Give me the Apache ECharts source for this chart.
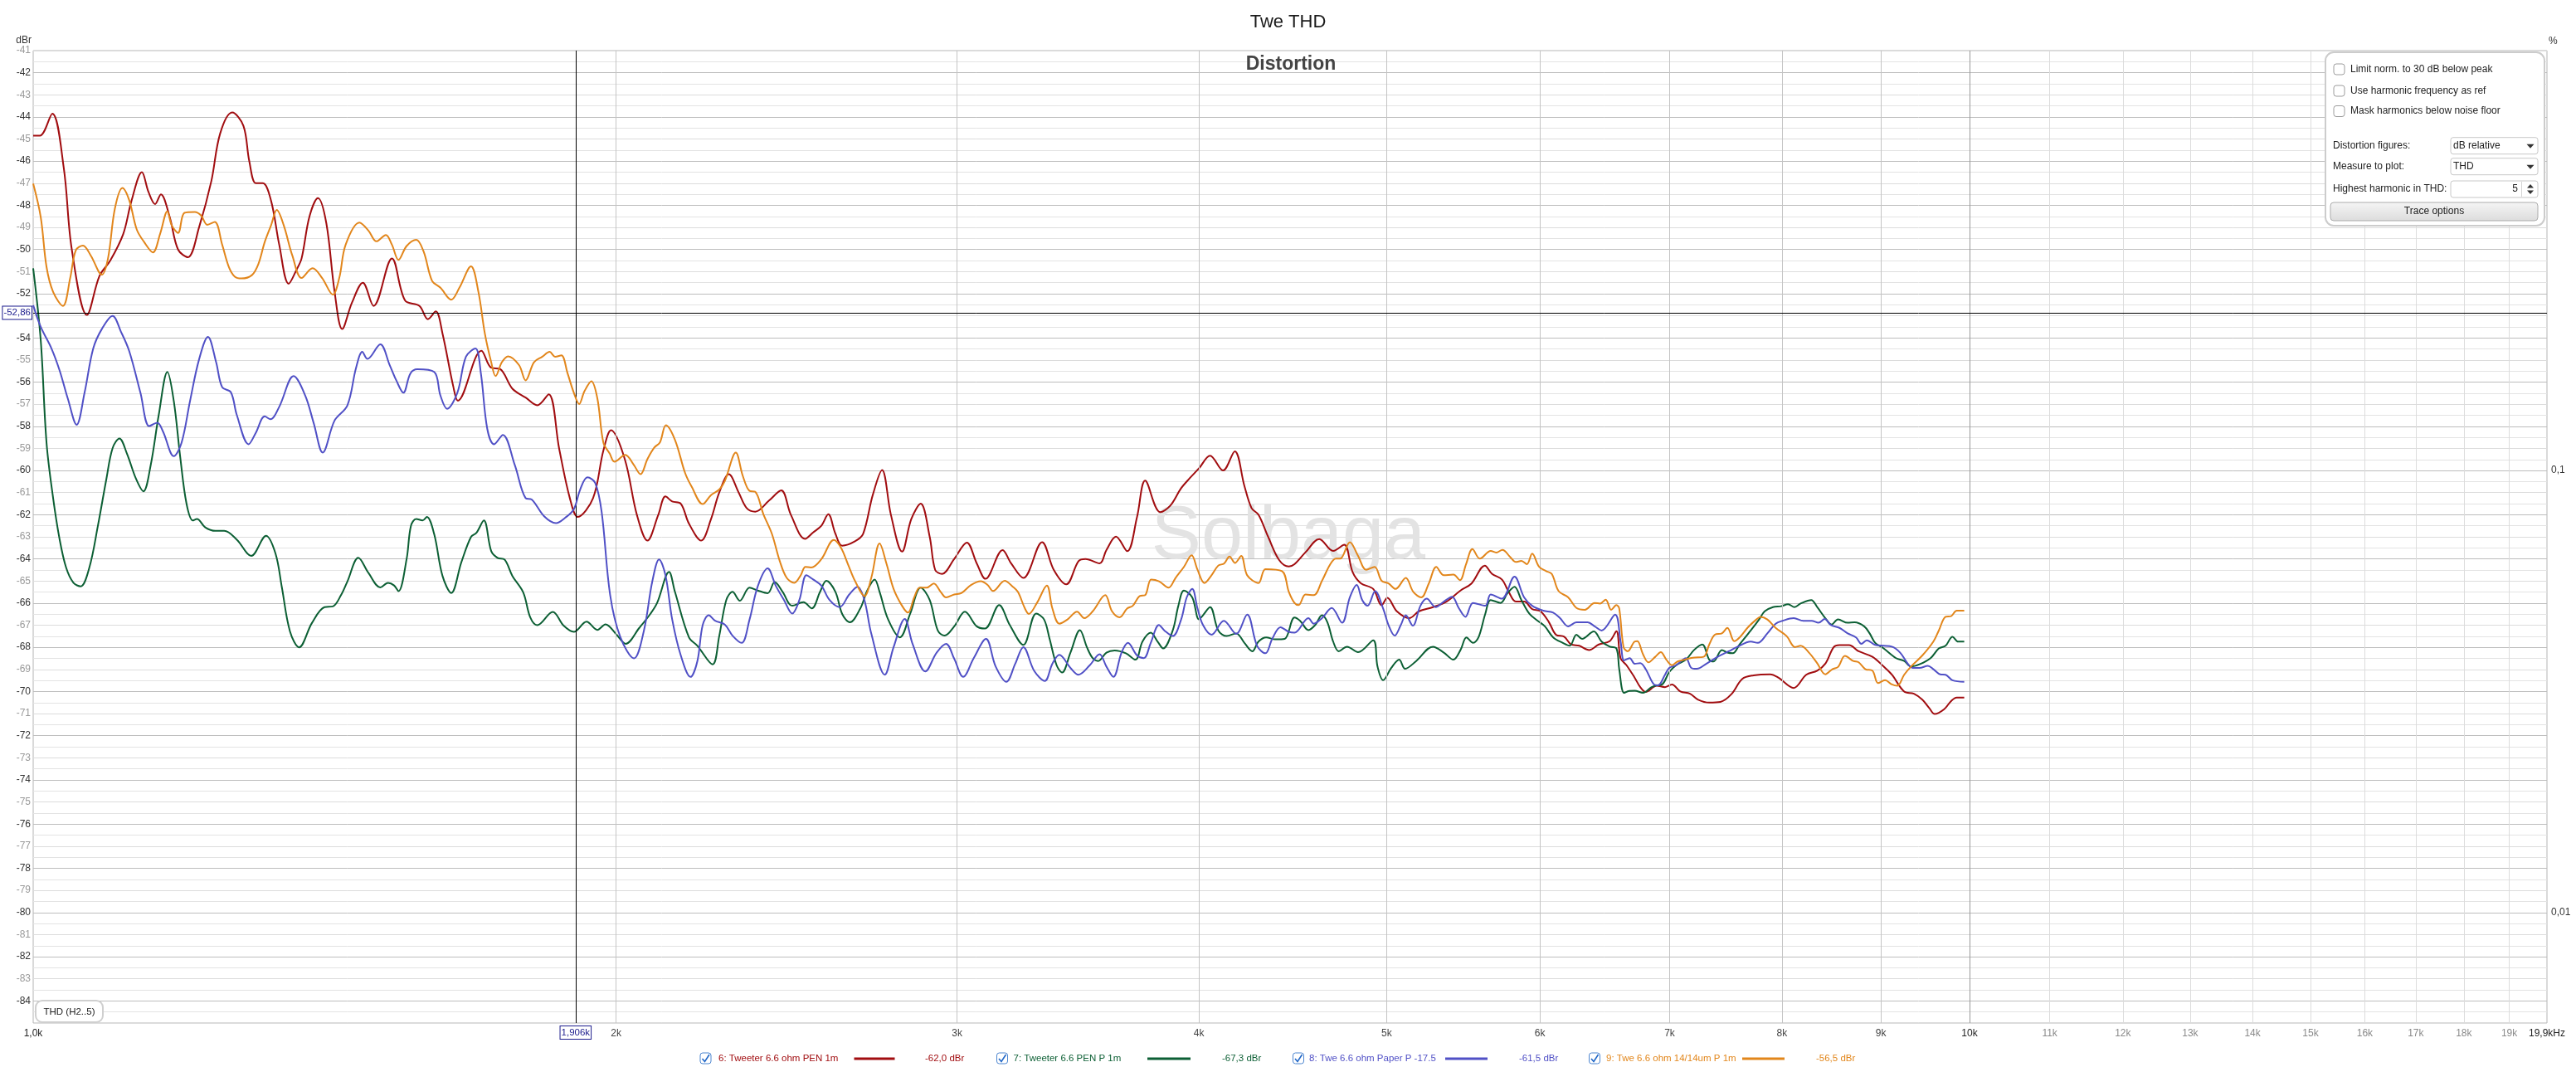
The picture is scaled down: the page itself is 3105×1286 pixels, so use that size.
<!DOCTYPE html>
<html><head><meta charset="utf-8">
<script src="https://cdn.jsdelivr.net/npm/echarts@6/dist/echarts.min.js"></script>
<style>html,body{margin:0;padding:0;background:#fff}#c{width:3105px;height:1286px}</style>
</head><body><div id="c"></div>
<script>
// ---------- DATA ----------
const seriesNames = ['6: Tweeter 6.6 ohm PEN 1m', '7: Tweeter 6.6 PEN P 1m', '8: Twe 6.6 ohm Paper P -17.5', '9: Twe 6.6 ohm 14/14um P 1m'];
const legendValues = ['-62,0 dBr', '-67,3 dBr', '-61,5 dBr', '-56,5 dBr'];

// x tick labels [Hz, label]
const xTickLabels = [[1000,'1,0k'],[2000,'2k'],[3000,'3k'],[4000,'4k'],[5000,'5k'],[6000,'6k'],[7000,'7k'],[8000,'8k'],[9000,'9k'],[10000,'10k'],[11000,'11k'],[12000,'12k'],[13000,'13k'],[14000,'14k'],[15000,'15k'],[16000,'16k'],[17000,'17k'],[18000,'18k'],[19000,'19k'],[19870,'19,9kHz']];
const xMin = 1000, xMax = 19870;
const yMin = -85, yMax = -41;
const pctLabels = [[-60,'0,1'],[-80,'0,01']];
const cursor = { freq: 1906, freqLabel: '1,906k', db: -52.86, dbLabel: '-52,86' };

const tweeterPEN1m = [[1000,-44.85],[1008,-44.85],[1023,-43.85],[1037,-46.3],[1047,-50.0],[1066,-52.96],[1082,-51.2],[1096,-50.5],[1113,-49.3],[1124,-47.8],[1138,-46.5],[1147,-47.4],[1156,-47.95],[1164,-47.5],[1176,-48.5],[1188,-50.0],[1202,-50.35],[1218,-49.0],[1236,-46.9],[1249,-44.75],[1267,-43.8],[1284,-44.4],[1293,-46.0],[1303,-47.0],[1314,-47.0],[1327,-47.8],[1340,-49.8],[1355,-51.55],[1368,-50.9],[1376,-50.4],[1389,-48.5],[1403,-47.67],[1417,-48.8],[1431,-51.9],[1444,-53.6],[1461,-52.4],[1480,-51.5],[1499,-52.55],[1532,-50.4],[1556,-52.3],[1583,-52.55],[1599,-53.15],[1614,-52.8],[1627,-53.8],[1648,-56.2],[1657,-56.84],[1704,-54.58],[1724,-55.35],[1742,-55.4],[1768,-56.3],[1796,-56.7],[1821,-57.05],[1846,-56.55],[1869,-59.0],[1893,-61.25],[1911,-62.1],[1946,-61.25],[1970,-59.1],[1988,-58.18],[2021,-59.5],[2050,-62.0],[2076,-63.17],[2103,-62.0],[2121,-61.17],[2138,-61.4],[2160,-61.5],[2181,-62.4],[2213,-63.17],[2239,-62.2],[2261,-61.0],[2287,-60.17],[2314,-61.0],[2336,-61.7],[2360,-61.86],[2399,-61.36],[2434,-60.9],[2462,-62.0],[2504,-63.09],[2528,-62.8],[2553,-62.5],[2574,-61.98],[2596,-62.86],[2617,-63.4],[2657,-63.2],[2683,-62.86],[2714,-61.1],[2744,-59.98],[2773,-62.0],[2810,-63.67],[2841,-62.2],[2873,-61.5],[2904,-63.0],[2923,-64.5],[2947,-64.68],[2990,-64.0],[3035,-63.26],[3071,-64.2],[3103,-64.9],[3167,-63.6],[3199,-64.2],[3246,-64.86],[3319,-63.24],[3366,-64.5],[3416,-65.15],[3466,-64.1],[3495,-64.0],[3554,-64.2],[3583,-63.6],[3624,-62.99],[3673,-63.65],[3716,-62.1],[3752,-60.46],[3820,-61.88],[3865,-61.6],[3916,-60.8],[3955,-60.36],[4000,-59.9],[4053,-59.33],[4116,-60.0],[4174,-59.13],[4222,-60.7],[4258,-61.7],[4293,-62.0],[4343,-63.0],[4400,-64.05],[4451,-64.34],[4481,-64.24],[4540,-63.7],[4615,-63.1],[4692,-63.64],[4754,-63.36],[4802,-64.6],[4849,-65.1],[4921,-65.36],[4970,-66.1],[5004,-65.76],[5061,-66.37],[5136,-66.68],[5196,-66.37],[5283,-66.18],[5369,-65.93],[5459,-65.43],[5531,-65.11],[5619,-64.3],[5668,-64.68],[5734,-64.93],[5782,-65.5],[5830,-65.93],[5888,-65.93],[5945,-66.27],[6004,-66.37],[6065,-66.87],[6115,-67.43],[6175,-67.52],[6226,-67.87],[6287,-67.93],[6361,-68.12],[6435,-67.87],[6519,-67.72],[6571,-67.27],[6604,-68.5],[6649,-68.8],[6715,-69.37],[6760,-69.8],[6804,-70.02],[6893,-69.74],[6962,-69.8],[7020,-69.68],[7090,-70.0],[7172,-70.1],[7242,-70.37],[7338,-70.5],[7436,-70.47],[7534,-70.12],[7632,-69.43],[7735,-69.27],[7889,-69.22],[7966,-69.37],[8113,-69.84],[8235,-69.24],[8343,-69.06],[8424,-68.74],[8509,-67.99],[8567,-67.9],[8665,-67.9],[8765,-68.18],[8910,-68.43],[9029,-68.87],[9118,-69.24],[9252,-70.0],[9360,-70.1],[9454,-70.37],[9532,-70.75],[9594,-71.02],[9703,-70.8],[9783,-70.43],[9848,-70.27],[9937,-70.27]];

const tweeterPENP1m = [[1000,-50.85],[1009,-54.1],[1016,-58.75],[1024,-61.25],[1032,-63.13],[1040,-64.4],[1049,-65.08],[1058,-65.24],[1069,-64.4],[1080,-62.5],[1091,-60.37],[1099,-58.99],[1108,-58.55],[1118,-59.24],[1130,-60.37],[1140,-60.94],[1150,-59.75],[1161,-57.49],[1173,-55.54],[1182,-56.86],[1191,-59.37],[1200,-61.5],[1209,-62.26],[1215,-62.19],[1227,-62.57],[1242,-62.73],[1255,-62.73],[1274,-63.13],[1296,-63.86],[1319,-62.95],[1334,-63.76],[1344,-65.27],[1357,-67.27],[1372,-68.0],[1393,-66.9],[1414,-66.18],[1428,-66.15],[1442,-65.64],[1453,-65.02],[1472,-63.95],[1490,-64.64],[1511,-65.29],[1525,-65.08],[1536,-65.2],[1544,-65.46],[1559,-64.01],[1567,-62.51],[1577,-62.19],[1589,-62.26],[1597,-62.1],[1611,-62.88],[1627,-64.77],[1644,-65.54],[1664,-64.14],[1683,-63.01],[1694,-62.82],[1709,-62.26],[1724,-63.64],[1737,-63.95],[1752,-64.04],[1768,-64.77],[1791,-65.52],[1806,-66.65],[1821,-67.0],[1855,-66.4],[1879,-67.02],[1902,-67.3],[1931,-66.84],[1956,-67.21],[1975,-66.96],[2000,-67.4],[2023,-67.84],[2056,-67.12],[2083,-66.49],[2100,-65.99],[2130,-64.59],[2145,-65.49],[2181,-67.55],[2203,-67.93],[2243,-68.77],[2261,-67.49],[2280,-65.86],[2297,-65.49],[2317,-65.89],[2344,-65.3],[2367,-65.43],[2395,-65.55],[2415,-65.05],[2438,-65.49],[2466,-66.12],[2499,-65.96],[2524,-66.24],[2549,-65.49],[2568,-64.99],[2596,-65.49],[2617,-66.49],[2641,-66.87],[2674,-66.24],[2696,-65.43],[2720,-64.93],[2736,-65.49],[2764,-66.74],[2803,-67.55],[2837,-66.49],[2873,-65.3],[2904,-65.86],[2932,-67.24],[2956,-67.47],[2990,-67.05],[3028,-66.39],[3071,-67.05],[3101,-67.15],[3154,-66.09],[3194,-66.99],[3246,-67.89],[3296,-66.47],[3327,-66.74],[3349,-67.62],[3377,-68.81],[3399,-69.14],[3433,-68.24],[3472,-67.22],[3501,-68.0],[3525,-68.49],[3548,-68.62],[3583,-68.24],[3618,-68.14],[3667,-68.27],[3709,-68.56],[3740,-67.74],[3777,-67.34],[3808,-67.74],[3833,-68.05],[3877,-67.24],[3903,-66.12],[3929,-65.43],[3968,-65.74],[4000,-66.74],[4019,-66.55],[4053,-66.18],[4093,-67.24],[4134,-67.49],[4181,-67.37],[4222,-67.8],[4262,-68.18],[4293,-67.74],[4333,-67.55],[4379,-67.64],[4429,-67.62],[4481,-66.65],[4511,-66.8],[4556,-67.22],[4593,-66.99],[4630,-66.55],[4660,-66.87],[4692,-67.74],[4723,-68.18],[4770,-67.97],[4833,-68.22],[4921,-67.68],[4946,-68.87],[4979,-69.49],[5028,-68.93],[5075,-68.56],[5111,-68.97],[5179,-68.62],[5283,-67.97],[5352,-68.24],[5413,-68.56],[5459,-68.12],[5498,-67.55],[5541,-67.8],[5577,-67.55],[5622,-66.49],[5659,-65.86],[5725,-65.99],[5773,-65.55],[5821,-65.26],[5869,-65.86],[5926,-66.49],[5984,-66.8],[6035,-67.05],[6095,-67.55],[6165,-67.8],[6216,-67.93],[6266,-67.43],[6308,-67.62],[6397,-67.28],[6456,-67.74],[6519,-67.97],[6571,-68.05],[6593,-68.99],[6631,-70.06],[6671,-69.97],[6715,-69.96],[6782,-70.06],[6849,-69.81],[6893,-69.72],[6938,-69.68],[6997,-69.12],[7055,-68.81],[7137,-68.56],[7207,-68.12],[7277,-67.87],[7338,-68.56],[7375,-68.64],[7449,-68.12],[7498,-68.24],[7546,-68.27],[7608,-67.87],[7709,-67.24],[7786,-66.74],[7838,-66.37],[7915,-66.18],[7993,-66.14],[8059,-66.05],[8121,-66.18],[8180,-66.02],[8284,-65.86],[8343,-66.18],[8424,-66.68],[8486,-66.97],[8552,-66.74],[8651,-66.89],[8722,-66.87],[8822,-67.05],[8880,-67.37],[8939,-67.8],[9029,-68.05],[9163,-68.49],[9252,-68.62],[9328,-68.87],[9422,-68.77],[9547,-68.49],[9641,-68.05],[9719,-67.93],[9799,-67.52],[9865,-67.74],[9937,-67.74]];

const twePaperP = [[1000,-52.52],[1009,-53.5],[1022,-54.48],[1032,-55.48],[1042,-56.74],[1053,-57.93],[1063,-56.48],[1074,-54.48],[1085,-53.6],[1099,-53.0],[1110,-53.72],[1121,-54.6],[1136,-56.48],[1148,-57.99],[1159,-57.84],[1167,-58.24],[1182,-59.35],[1193,-58.74],[1205,-56.86],[1218,-54.98],[1231,-53.95],[1243,-55.1],[1252,-56.23],[1265,-56.46],[1274,-57.49],[1292,-58.81],[1303,-58.3],[1317,-57.55],[1326,-57.68],[1340,-57.11],[1363,-55.73],[1382,-56.61],[1396,-57.86],[1411,-59.19],[1431,-57.74],[1453,-57.05],[1468,-55.36],[1479,-54.63],[1488,-54.95],[1511,-54.29],[1528,-55.23],[1540,-55.92],[1553,-56.48],[1566,-55.61],[1579,-55.42],[1611,-55.54],[1623,-56.61],[1636,-57.21],[1656,-56.48],[1673,-54.85],[1692,-54.48],[1703,-55.61],[1716,-58.12],[1730,-58.81],[1748,-58.39],[1773,-59.75],[1796,-61.25],[1809,-61.31],[1836,-62.07],[1862,-62.38],[1883,-62.13],[1902,-61.75],[1916,-60.88],[1933,-60.31],[1951,-60.56],[1966,-61.88],[1986,-65.64],[2010,-67.53],[2043,-68.5],[2067,-67.27],[2088,-65.02],[2105,-64.02],[2121,-64.74],[2138,-66.74],[2160,-68.37],[2185,-69.34],[2203,-68.62],[2217,-66.99],[2233,-66.55],[2250,-66.8],[2276,-66.97],[2298,-67.49],[2322,-67.8],[2344,-66.74],[2367,-65.24],[2395,-64.43],[2419,-65.24],[2442,-65.86],[2466,-66.47],[2487,-65.86],[2508,-64.74],[2528,-64.93],[2553,-65.21],[2578,-65.86],[2609,-66.18],[2639,-65.61],[2665,-65.26],[2687,-65.86],[2709,-67.37],[2753,-69.24],[2782,-67.99],[2819,-66.72],[2846,-67.87],[2889,-69.09],[2928,-68.24],[2961,-67.84],[2990,-68.52],[3022,-69.34],[3060,-68.49],[3105,-67.62],[3141,-68.87],[3181,-69.56],[3215,-68.74],[3246,-67.99],[3288,-69.06],[3330,-69.52],[3360,-68.74],[3388,-68.34],[3433,-68.93],[3466,-69.24],[3513,-68.81],[3554,-68.31],[3583,-68.87],[3613,-69.34],[3648,-68.24],[3676,-67.8],[3716,-68.37],[3746,-68.49],[3777,-67.8],[3814,-66.99],[3839,-67.24],[3877,-67.49],[3916,-66.74],[3942,-65.74],[3968,-65.36],[3993,-66.24],[4019,-66.99],[4060,-67.43],[4120,-66.8],[4181,-67.39],[4236,-66.52],[4286,-67.93],[4329,-68.27],[4364,-67.62],[4407,-67.09],[4451,-67.3],[4481,-67.34],[4556,-66.68],[4585,-66.93],[4630,-66.68],[4684,-66.22],[4742,-66.89],[4786,-65.74],[4825,-65.18],[4857,-65.86],[4888,-66.12],[4932,-65.46],[4979,-66.24],[5011,-66.99],[5048,-67.47],[5085,-66.99],[5115,-66.55],[5158,-67.02],[5205,-66.12],[5244,-65.8],[5300,-66.18],[5352,-65.93],[5404,-65.71],[5449,-66.24],[5491,-66.62],[5541,-65.99],[5622,-66.12],[5659,-65.61],[5734,-65.8],[5821,-64.8],[5888,-65.74],[5945,-66.12],[6024,-66.34],[6095,-66.43],[6145,-66.68],[6205,-67.05],[6266,-66.87],[6350,-66.87],[6403,-67.05],[6456,-67.24],[6561,-66.52],[6604,-67.74],[6631,-68.59],[6676,-68.49],[6715,-68.74],[6760,-68.72],[6804,-68.99],[6871,-69.68],[6904,-69.72],[6962,-69.24],[6997,-68.93],[7055,-68.81],[7137,-68.49],[7183,-68.93],[7230,-68.97],[7314,-68.74],[7412,-68.43],[7510,-68.18],[7583,-67.99],[7709,-67.74],[7773,-67.8],[7863,-67.37],[7941,-66.93],[8005,-66.8],[8113,-66.68],[8207,-66.8],[8288,-66.8],[8356,-66.89],[8418,-66.72],[8481,-66.99],[8567,-67.12],[8651,-67.37],[8737,-67.55],[8793,-67.84],[8850,-67.68],[8939,-67.89],[9029,-67.93],[9118,-67.97],[9208,-68.24],[9297,-68.77],[9344,-68.93],[9422,-68.93],[9516,-68.84],[9579,-68.99],[9657,-69.22],[9719,-69.24],[9799,-69.49],[9937,-69.56]];

const twe1414umP1m = [[1000,-47.02],[1009,-48.53],[1016,-50.79],[1024,-51.92],[1036,-52.55],[1045,-51.29],[1052,-50.03],[1061,-49.82],[1071,-50.28],[1085,-51.14],[1093,-50.41],[1102,-48.15],[1112,-47.21],[1121,-47.77],[1131,-49.09],[1141,-49.66],[1153,-50.13],[1163,-49.28],[1173,-48.27],[1179,-48.9],[1188,-49.25],[1197,-48.34],[1212,-48.3],[1221,-48.46],[1230,-48.88],[1241,-48.75],[1252,-49.78],[1262,-50.79],[1271,-51.23],[1281,-51.31],[1297,-51.16],[1307,-50.66],[1317,-49.66],[1327,-48.9],[1336,-48.21],[1347,-48.9],[1361,-50.28],[1376,-51.29],[1394,-50.85],[1410,-51.29],[1428,-52.04],[1439,-51.29],[1450,-49.78],[1474,-48.78],[1490,-49.15],[1504,-49.63],[1521,-49.34],[1532,-49.78],[1544,-50.47],[1559,-49.84],[1577,-49.56],[1591,-50.1],[1607,-51.42],[1623,-51.73],[1644,-52.27],[1660,-51.73],[1683,-50.76],[1698,-51.92],[1711,-53.8],[1724,-55.1],[1733,-55.73],[1746,-55.1],[1759,-54.83],[1782,-55.23],[1796,-55.92],[1814,-55.1],[1832,-54.85],[1848,-54.63],[1860,-54.85],[1874,-54.79],[1888,-55.61],[1902,-56.48],[1914,-56.99],[1926,-56.42],[1942,-55.96],[1956,-56.74],[1970,-58.74],[1985,-59.24],[1996,-59.6],[2022,-59.29],[2042,-59.73],[2059,-60.17],[2076,-59.48],[2093,-58.96],[2107,-58.73],[2122,-57.95],[2145,-58.61],[2171,-60.11],[2188,-60.73],[2217,-61.52],[2239,-61.11],[2261,-60.86],[2276,-60.48],[2306,-59.19],[2325,-60.23],[2344,-60.92],[2360,-60.96],[2383,-61.98],[2407,-62.86],[2430,-64.11],[2450,-64.86],[2472,-65.08],[2491,-64.74],[2505,-64.36],[2522,-64.39],[2553,-64.01],[2591,-63.14],[2613,-63.49],[2635,-64.24],[2657,-64.99],[2687,-65.68],[2709,-64.86],[2736,-63.3],[2759,-64.24],[2782,-65.36],[2810,-66.12],[2830,-66.43],[2851,-65.74],[2870,-65.3],[2894,-65.3],[2918,-65.11],[2942,-65.49],[2961,-65.74],[2990,-65.61],[3015,-65.55],[3050,-65.18],[3086,-65.01],[3111,-65.18],[3131,-65.45],[3175,-64.99],[3204,-65.24],[3225,-65.49],[3252,-66.24],[3267,-66.49],[3299,-65.99],[3338,-65.21],[3360,-66.24],[3388,-66.93],[3421,-66.74],[3460,-66.39],[3490,-66.68],[3525,-66.37],[3578,-65.64],[3607,-66.37],[3640,-66.64],[3673,-66.24],[3697,-66.12],[3728,-65.68],[3752,-65.64],[3779,-64.93],[3814,-65.01],[3858,-65.3],[3890,-64.86],[3929,-64.36],[3965,-63.84],[3993,-64.49],[4026,-65.09],[4060,-64.74],[4093,-64.3],[4121,-64.21],[4148,-63.89],[4175,-64.18],[4206,-63.86],[4236,-64.74],[4293,-65.09],[4329,-64.46],[4415,-64.55],[4451,-65.49],[4481,-65.99],[4503,-66.09],[4540,-65.61],[4585,-65.64],[4630,-64.99],[4676,-64.24],[4707,-63.99],[4731,-63.99],[4786,-63.24],[4833,-63.86],[4880,-64.49],[4929,-64.36],[4970,-64.99],[5011,-65.11],[5053,-65.36],[5115,-64.86],[5161,-65.49],[5210,-65.74],[5257,-65.11],[5304,-64.36],[5352,-64.74],[5413,-64.71],[5455,-64.96],[5495,-64.24],[5537,-63.55],[5586,-63.99],[5659,-63.64],[5696,-63.71],[5738,-63.59],[5792,-63.92],[5830,-64.14],[5869,-64.09],[5907,-64.24],[5945,-63.76],[5994,-64.36],[6044,-64.55],[6085,-64.68],[6135,-65.46],[6205,-65.74],[6266,-66.22],[6329,-66.3],[6403,-65.99],[6445,-66.02],[6488,-65.84],[6530,-66.3],[6571,-66.09],[6593,-66.24],[6627,-67.99],[6660,-68.18],[6715,-67.74],[6737,-67.72],[6782,-68.31],[6826,-68.68],[6882,-68.43],[6927,-68.22],[6973,-68.56],[7020,-68.81],[7067,-68.64],[7125,-68.56],[7195,-68.47],[7289,-68.43],[7338,-67.87],[7387,-67.43],[7449,-67.37],[7498,-67.12],[7560,-67.72],[7608,-67.55],[7684,-67.09],[7761,-66.74],[7799,-66.62],[7863,-66.74],[7941,-67.12],[8045,-67.49],[8126,-67.99],[8180,-67.93],[8262,-68.24],[8343,-68.72],[8424,-69.22],[8495,-68.99],[8552,-68.89],[8623,-68.39],[8709,-68.62],[8765,-68.68],[8836,-68.99],[8910,-69.06],[8969,-69.62],[9044,-69.49],[9118,-69.68],[9178,-69.74],[9252,-69.24],[9328,-68.87],[9454,-68.37],[9579,-67.74],[9641,-67.24],[9719,-66.62],[9783,-66.59],[9848,-66.34],[9937,-66.34]];

const seriesData = [tweeterPEN1m, tweeterPENP1m, twePaperP, twe1414umP1m];

// ---------- STYLE ----------
const colors = ['#a10d10', '#0c5f34', '#5050c6', '#e2861b'];
const FONT = '"Liberation Sans", Arial, sans-serif';

const chart = echarts.init(document.getElementById('c'), null, { renderer: 'canvas' });

function xLabelColor(f) {
  if (f === 1000 || f === 10000 || f === 19870) return '#222';
  if (f < 10000) return '#444';
  return '#8a8a8a';
}
function xLineColor(f) {
  if (f === 1000 || f === 19870) return 'rgba(0,0,0,0)';
  if (f === 10000) return '#9a9a9a';
  if (f < 10000) return '#c4c4c4';
  return '#dcdcdc';
}

const gridMarks = xTickLabels.map(([f, lab]) => ({
  xAxis: f,
  lineStyle: { color: xLineColor(f), width: 1, type: 'solid' },
  label: { show: true, position: 'start', distance: 7, formatter: lab, color: xLabelColor(f), fontSize: 12, fontFamily: FONT }
}));

const cursorMarks = [
  { xAxis: cursor.freq, lineStyle: { color: '#000', width: 1, type: 'solid' },
    label: { show: true, position: 'start', distance: 4, formatter: cursor.freqLabel, color: '#1b1b8c', fontSize: 11.5, fontFamily: FONT,
      backgroundColor: '#fff', borderColor: '#1b1b8c', borderWidth: 1, padding: [2, 1, 1, 1] } },
  { yAxis: cursor.db, lineStyle: { color: '#000', width: 1, type: 'solid' },
    label: { show: true, position: 'start', distance: 2, formatter: cursor.dbLabel, color: '#1b1b8c', fontSize: 11.5, fontFamily: FONT,
      backgroundColor: '#fff', borderColor: '#1b1b8c', borderWidth: 1, padding: [2, 1, 1, 1] } }
];

const lineSeries = seriesData.map((d, i) => ({
  type: 'line', name: seriesNames[i], data: d, showSymbol: false, symbol: 'none',
  smooth: 0.35, clip: true, z: 3 + i,
  lineStyle: { width: 2, color: colors[i] }, itemStyle: { color: colors[i] }
}));

// ---------- GRAPHIC ----------
const g = [];
g.push({ type: 'text', x: 1556, y: 78, z: 5, style: { text: 'Distortion', fill: '#444', fontSize: 23, fontWeight: 'bold', fontFamily: FONT, align: 'center', verticalAlign: 'middle' } });
g.push({ type: 'text', x: 1553, y: 648, z: 1, style: { text: 'Solbaga', fill: '#e3e3e3', fontSize: 90, fontFamily: FONT, align: 'center', verticalAlign: 'middle' } });
// THD box
g.push({ type: 'rect', z: 10, shape: { x: 43, y: 1206, width: 81, height: 26, r: 8 }, style: { fill: '#fff', stroke: '#cfcfcf', lineWidth: 2 } });
g.push({ type: 'text', z: 11, x: 83.5, y: 1219.5, style: { text: 'THD (H2..5)', fill: '#222', fontSize: 11.5, fontFamily: FONT, align: 'center', verticalAlign: 'middle' } });
// options panel
const PX = 2803, PY = 63;
g.push({ type: 'rect', z: 20, shape: { x: PX, y: PY, width: 264, height: 209, r: 10 }, style: { fill: '#fff', stroke: '#cccccc', lineWidth: 2 } });
const checks = [['Limit norm. to 30 dB below peak', 83.5], ['Use harmonic frequency as ref', 109.5], ['Mask harmonics below noise floor', 134]];
checks.forEach(([t, cy]) => {
  g.push({ type: 'rect', z: 21, shape: { x: 2813, y: cy - 6.5, width: 13, height: 13, r: 3 }, style: { fill: '#fff', stroke: '#9c9c9c', lineWidth: 1 } });
  g.push({ type: 'text', z: 21, x: 2833, y: cy, style: { text: t, fill: '#222', fontSize: 12, fontFamily: FONT, align: 'left', verticalAlign: 'middle' } });
});
const rows = [['Distortion figures:', 175.7, 'dB relative', 'drop'], ['Measure to plot:', 200.7, 'THD', 'drop'], ['Highest harmonic in THD:', 228, '5', 'spin']];
rows.forEach(([t, cy, v, kind]) => {
  g.push({ type: 'text', z: 21, x: 2812, y: cy, style: { text: t, fill: '#222', fontSize: 12, fontFamily: FONT, align: 'left', verticalAlign: 'middle' } });
  g.push({ type: 'rect', z: 21, shape: { x: 2954, y: cy - 10, width: 105, height: 20, r: 3 }, style: { fill: '#fff', stroke: '#c8c8c8', lineWidth: 1 } });
  if (kind === 'drop') {
    g.push({ type: 'text', z: 22, x: 2957, y: cy, style: { text: v, fill: '#222', fontSize: 12, fontFamily: FONT, align: 'left', verticalAlign: 'middle' } });
    g.push({ type: 'polygon', z: 22, shape: { points: [[3045.5, cy - 2], [3054.5, cy - 2], [3050, cy + 3]] }, style: { fill: '#333' } });
  } else {
    g.push({ type: 'text', z: 22, x: 3035, y: cy, style: { text: v, fill: '#222', fontSize: 12, fontFamily: FONT, align: 'right', verticalAlign: 'middle' } });
    g.push({ type: 'line', z: 22, shape: { x1: 3039.5, y1: cy - 9, x2: 3039.5, y2: cy + 9 }, style: { stroke: '#d4d4d4', lineWidth: 1 } });
    g.push({ type: 'polygon', z: 22, shape: { points: [[3046, cy - 1.5], [3054, cy - 1.5], [3050, cy - 6]] }, style: { fill: '#333' } });
    g.push({ type: 'polygon', z: 22, shape: { points: [[3046, cy + 1.5], [3054, cy + 1.5], [3050, cy + 6]] }, style: { fill: '#333' } });
  }
});
g.push({ type: 'rect', z: 21, shape: { x: 2809, y: 244, width: 250, height: 22, r: 4 },
  style: { fill: new echarts.graphic.LinearGradient(0, 0, 0, 1, [{ offset: 0, color: '#f5f5f5' }, { offset: 1, color: '#dcdcdc' }]), stroke: '#ababab', lineWidth: 1 } });
g.push({ type: 'text', z: 22, x: 2934, y: 255, style: { text: 'Trace options', fill: '#222', fontSize: 12, fontFamily: FONT, align: 'center', verticalAlign: 'middle' } });

// legend
const LY = 1276;
const legCheckX = [850.5, 1208, 1565, 1922];
const legTextX = [866, 1221.5, 1578, 1936];
const legLineX = [[1029.5, 1078.5], [1383, 1435], [1742, 1793], [2100, 2151]];
const legValX = [1115, 1473, 1831, 2189];
seriesNames.forEach((n, i) => {
  const cx = legCheckX[i];
  g.push({ type: 'rect', z: 10, shape: { x: cx - 6.5, y: LY - 7, width: 13, height: 13, r: 3 }, style: { fill: '#fff', stroke: '#4d86d0', lineWidth: 1 } });
  g.push({ type: 'polyline', z: 11, shape: { points: [[cx - 4, LY], [cx - 1, LY + 3.5], [cx + 4.5, LY - 5]] }, style: { stroke: '#1f66c7', lineWidth: 1.6, fill: null } });
  g.push({ type: 'text', z: 10, x: legTextX[i], y: LY, style: { text: n, fill: colors[i], fontSize: 11.5, fontFamily: FONT, align: 'left', verticalAlign: 'middle' } });
  g.push({ type: 'line', z: 10, shape: { x1: legLineX[i][0], y1: LY, x2: legLineX[i][1], y2: LY }, style: { stroke: colors[i], lineWidth: 3 } });
  g.push({ type: 'text', z: 10, x: legValX[i], y: LY, style: { text: legendValues[i], fill: colors[i], fontSize: 11.5, fontFamily: FONT, align: 'left', verticalAlign: 'middle' } });
});

const option = {
  animation: false,
  backgroundColor: '#ffffff',
  title: { text: 'Twe THD', left: 'center', top: 11, textStyle: { fontFamily: FONT, fontSize: 22, fontWeight: 'normal', color: '#1a1a1a' } },
  grid: { left: 40, right: 35, top: 61, bottom: 53, show: true, borderColor: '#b4b4b4', borderWidth: 1, backgroundColor: 'transparent' },
  xAxis: { type: 'log', logBase: 10, min: xMin, max: xMax, axisLine: { show: false }, axisTick: { show: false }, axisLabel: { show: false }, splitLine: { show: false } },
  yAxis: [
    { type: 'value', min: yMin, max: yMax, interval: 1, position: 'left',
      name: 'dBr', nameLocation: 'end', nameGap: 5, nameTextStyle: { fontFamily: FONT, fontSize: 12, color: '#333', align: 'right', padding: [0, 2, 0, 0] },
      axisLine: { show: false }, axisTick: { show: false },
      axisLabel: { margin: 3, fontFamily: FONT, fontSize: 12,
        formatter: v => (v === yMin ? '' : (v % 2 === 0 ? '{d|' + v + '}' : '{l|' + v + '}')),
        rich: { d: { color: '#333', fontFamily: FONT, fontSize: 12 }, l: { color: '#9a9a9a', fontFamily: FONT, fontSize: 12 } } },
      splitLine: { show: true, lineStyle: { color: ['#dcdcdc', '#bdbdbd'], width: 1 } },
      minorTick: { show: false, splitNumber: 2 },
      minorSplitLine: { show: true, lineStyle: { color: '#e3e3e3', width: 1 } } },
    { type: 'value', min: yMin, max: yMax, interval: 5, position: 'right',
      name: '%', nameLocation: 'end', nameGap: 5, nameTextStyle: { fontFamily: FONT, fontSize: 12, color: '#333', align: 'left', padding: [0, 0, 0, 2] },
      axisLine: { show: false }, axisTick: { show: false }, splitLine: { show: false },
      axisLabel: { margin: 5, fontFamily: FONT, fontSize: 12, color: '#333',
        formatter: v => { const p = pctLabels.find(q => q[0] === v); return p ? p[1] : ''; } } }
  ],
  series: [
    { type: 'line', data: [], silent: true, z: 1,
      markLine: { silent: true, symbol: ['none', 'none'], animation: false, precision: 4, data: gridMarks } },
    { type: 'line', data: [], silent: true, z: 2,
      markLine: { silent: true, symbol: ['none', 'none'], animation: false, precision: 4, data: cursorMarks } }
  ].concat(lineSeries),
  graphic: { elements: g }
};
chart.setOption(option);
</script>
</body></html>
